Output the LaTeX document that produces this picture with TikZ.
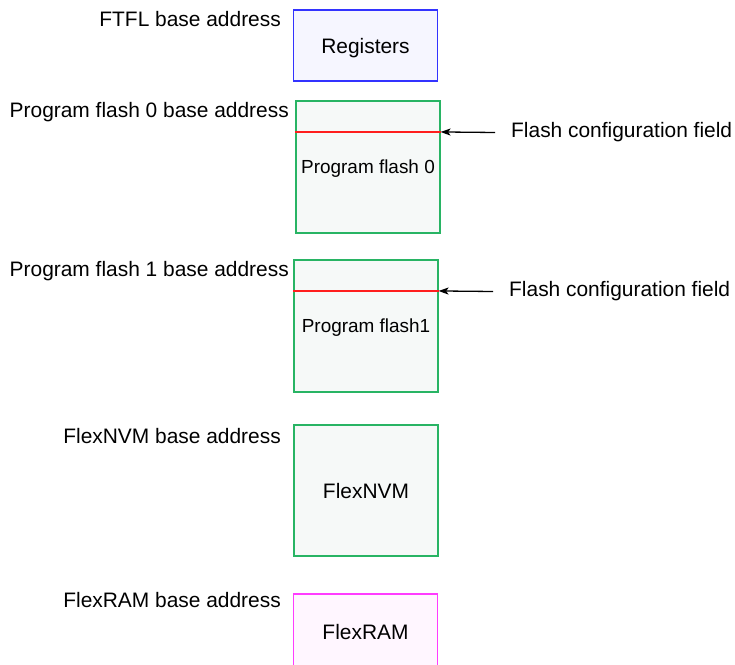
\documentclass[tikz,border=0pt]{standalone}
\usepackage{fontspec}
\setmainfont{Liberation Sans}
\usetikzlibrary{positioning, arrows.meta}

\definecolor{regblue}{RGB}{51,51,255}
\definecolor{regfill}{RGB}{246,246,255}
\definecolor{pfgreen}{RGB}{40,180,100}
\definecolor{pffill}{RGB}{246,249,248}
\definecolor{cfgred}{RGB}{255,30,30}
\definecolor{rammag}{RGB}{255,60,255}
\definecolor{ramfill}{RGB}{255,246,255}

\begin{document}
\begin{tikzpicture}[x=1bp, y=-1bp,
  font=\fontsize{21}{25}\selectfont,
  block/.style={draw, line width=1.1bp, minimum width=144bp, inner sep=0pt},
  addr/.style={anchor=east, inner sep=0pt},
  cfglabel/.style={anchor=west, inner xsep=16bp, inner ysep=0pt},
  pointer/.style={line width=1.3bp, -{Stealth[length=10bp, width=7bp, inset=2.5bp]}}]

\useasboundingbox (0,0) rectangle (735,665);

% Draw memory blocks
\node[block, draw=regblue, fill=regfill, minimum height=71bp, text depth=-2pt] (regs) at (365.5,45.5) {Registers};
\node[block, draw=pfgreen, fill=pffill, minimum height=132bp, font=\fontsize{19}{23}\selectfont, text depth=-2pt] (pf0) at (368,167) {Program flash 0};
\node[block, draw=pfgreen, fill=pffill, minimum height=132bp, font=\fontsize{19}{23}\selectfont, text depth=-2pt] (pf1) at (366,326) {Program flash1};
\node[block, draw=pfgreen, fill=pffill, minimum height=131bp, text depth=-2pt] (nvm) at (366,490.5) {FlexNVM};
\node[block, draw=rammag, fill=ramfill, minimum height=76bp, text depth=-2pt] (ram) at (365.5,632) {FlexRAM};

% Draw flash configuration fields
\coordinate (pf0cfgl) at ([yshift=-31.5bp]pf0.north west);
\coordinate (pf0cfg) at ([yshift=-31.5bp]pf0.north east);
\coordinate (pf1cfgl) at ([yshift=-31.5bp]pf1.north west);
\coordinate (pf1cfg) at ([yshift=-31.5bp]pf1.north east);
\draw[cfgred, line width=1.2bp] (pf0cfgl) -- (pf0cfg);
\draw[cfgred, line width=1.2bp] (pf1cfgl) -- (pf1cfg);

% Draw base addresses
\node[addr] (regsaddr) at (281,19) {FTFL base address};
\node[addr] (pf0addr) at (289,112) {Program flash 0 base address};
\node[addr] (pf1addr) at (289,271) {Program flash 1 base address};
\node[addr] (nvmaddr) at (281,436) {FlexNVM base address};
\node[addr] (ramaddr) at (281,600) {FlexRAM base address};

% Draw field pointers
\node[cfglabel] (pf0field) at (495,132.5) {Flash configuration field};
\node[cfglabel] (pf1field) at (493,291.5) {Flash configuration field};
\draw[pointer] (pf0field.west) -- (pf0cfg);
\draw[pointer] (pf1field.west) -- (pf1cfg);

\end{tikzpicture}
\end{document}
